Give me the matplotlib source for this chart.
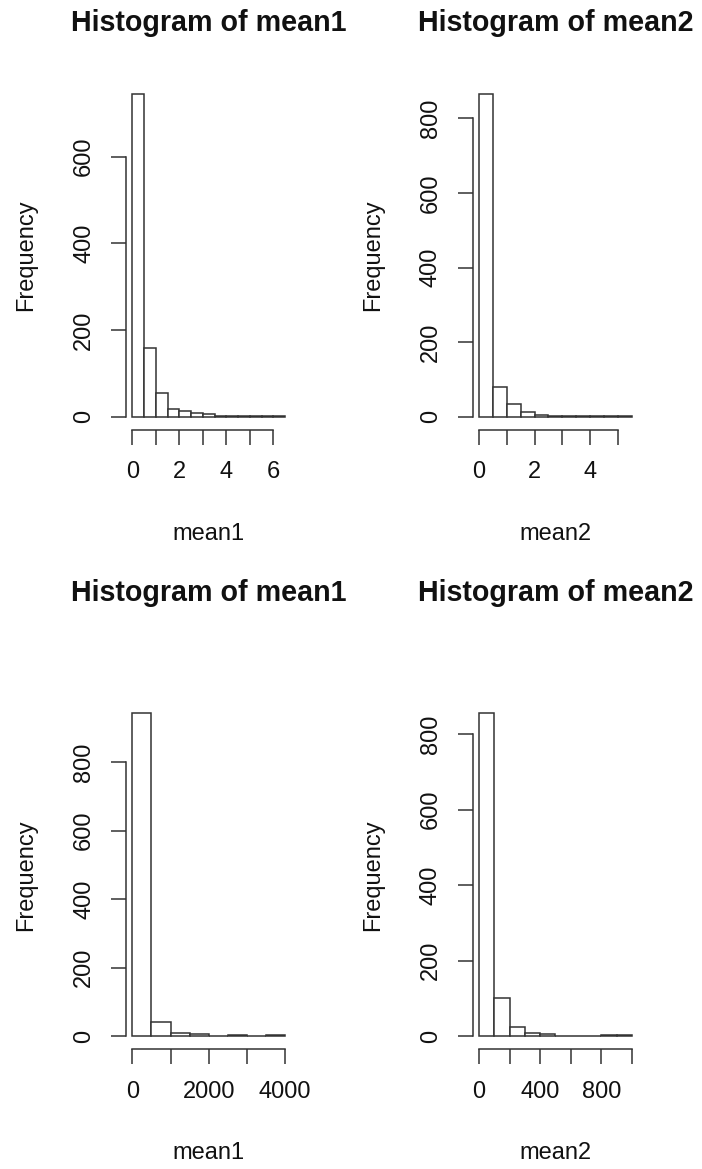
import matplotlib
matplotlib.use("Agg")
import matplotlib.pyplot as plt
import numpy as np

plt.rcParams['font.family'] = ['Liberation Sans', 'DejaVu Sans']

# ---- data ----
titles = ["Histogram of mean1", "Histogram of mean2", "Histogram of mean1", "Histogram of mean2"]
xlabels = ["mean1", "mean2", "mean1", "mean2"]

edges1 = [0, 0.5, 1, 1.5, 2, 2.5, 3, 3.5, 4, 4.5, 5, 5.5, 6, 6.5]
counts1 = [744, 158, 54, 18, 13, 8, 7, 2, 1, 1, 1, 1, 1]

edges2 = [0, 0.5, 1, 1.5, 2, 2.5, 3, 3.5, 4, 4.5, 5, 5.5]
counts2 = [865, 79, 33, 12, 4, 3, 2, 1, 3, 2, 1]

edges3 = [0, 500, 1000, 1500, 2000, 2500, 3000, 3500, 4000]
counts3 = [942, 42, 11, 7, 1, 5, 1, 3]

edges4 = [0, 100, 200, 300, 400, 500, 600, 700, 800, 900, 1000]
counts4 = [855, 102, 25, 10, 6, 2, 1, 1, 3, 3]

xticks1 = [0, 1, 2, 3, 4, 5, 6]
xticklabels1 = ["0", "", "2", "", "4", "", "6"]
xticks2 = [0, 1, 2, 3, 4, 5]
xticklabels2 = ["0", "", "2", "", "4", ""]
xticks3 = [0, 1000, 2000, 3000, 4000]
xticklabels3 = ["0", "", "2000", "", "4000"]
xticks4 = [0, 200, 400, 600, 800, 1000]
xticklabels4 = ["0", "", "400", "", "800", ""]

yticks1 = [0, 200, 400, 600]
yticks2 = [0, 200, 400, 600, 800]
yticks3 = [0, 200, 400, 600, 800]
yticks4 = [0, 200, 400, 600, 800]

panels = [
    (edges1, counts1, xticks1, xticklabels1, yticks1),
    (edges2, counts2, xticks2, xticklabels2, yticks2),
    (edges3, counts3, xticks3, xticklabels3, yticks3),
    (edges4, counts4, xticks4, xticklabels4, yticks4),
]

W, H = 702, 1169
fig = plt.figure(figsize=(W / 100, H / 100), dpi=100)

LINE = '#333333'
LW = 1.1

# axes boxes in pixels: (left, top, width, height)
boxes = [
    (126.2, 81.3, 165.0, 348.3),
    (472.9, 81.3, 165.0, 348.3),
    (126.2, 700.5, 165.0, 348.7),
    (472.9, 700.5, 165.0, 348.7),
]
title_y = [23, 23, 593, 593]

for i, (edges, counts, xt, xtl, yt) in enumerate(panels):
    l, t, w, h = boxes[i]
    ax = fig.add_axes([l / W, 1 - (t + h) / H, w / W, h / H])
    edges = np.asarray(edges, dtype=float)
    widths = np.diff(edges)
    ax.bar(edges[:-1], counts, width=widths, align='edge',
           facecolor='white', edgecolor=LINE, linewidth=LW)
    xr = edges[-1] - edges[0]
    ax.set_xlim(edges[0] - 0.04 * xr, edges[-1] + 0.04 * xr)
    m = max(counts)
    ax.set_ylim(-0.04 * m, 1.04 * m)

    for s in ['top', 'right']:
        ax.spines[s].set_visible(False)
    ax.spines['left'].set_bounds(yt[0], yt[-1])
    ax.spines['bottom'].set_bounds(xt[0], xt[-1])
    for s in ['left', 'bottom']:
        ax.spines[s].set_linewidth(LW)
        ax.spines[s].set_color(LINE)

    ax.set_xticks(xt)
    ax.set_xticklabels(xtl)
    ax.set_yticks(yt)
    ax.set_yticklabels([str(v) for v in yt])
    ax.tick_params(axis='both', length=10.8, width=LW, labelsize=17, color=LINE,
                   labelcolor='#111111')
    ax.tick_params(axis='x', pad=12)
    ax.tick_params(axis='y', pad=11.5, labelrotation=90)
    for lab in ax.get_yticklabels():
        lab.set_va('center')

    ax.set_xlabel(xlabels[i], fontsize=17, color='#111111')
    ax.xaxis.set_label_coords(0.5, -104 / h)
    ax.xaxis.label.set_va('center')
    ax.set_ylabel("Frequency", fontsize=17, color='#111111')
    ax.yaxis.set_label_coords(-100 / w, 0.5)
    ax.yaxis.label.set_va('center')

    fig.text((l + w / 2) / W, 1 - title_y[i] / H, titles[i], ha='center', va='center',
             fontsize=20.6, fontweight='bold', color='#111111')

fig.savefig("out.png", dpi=100, facecolor='white')
